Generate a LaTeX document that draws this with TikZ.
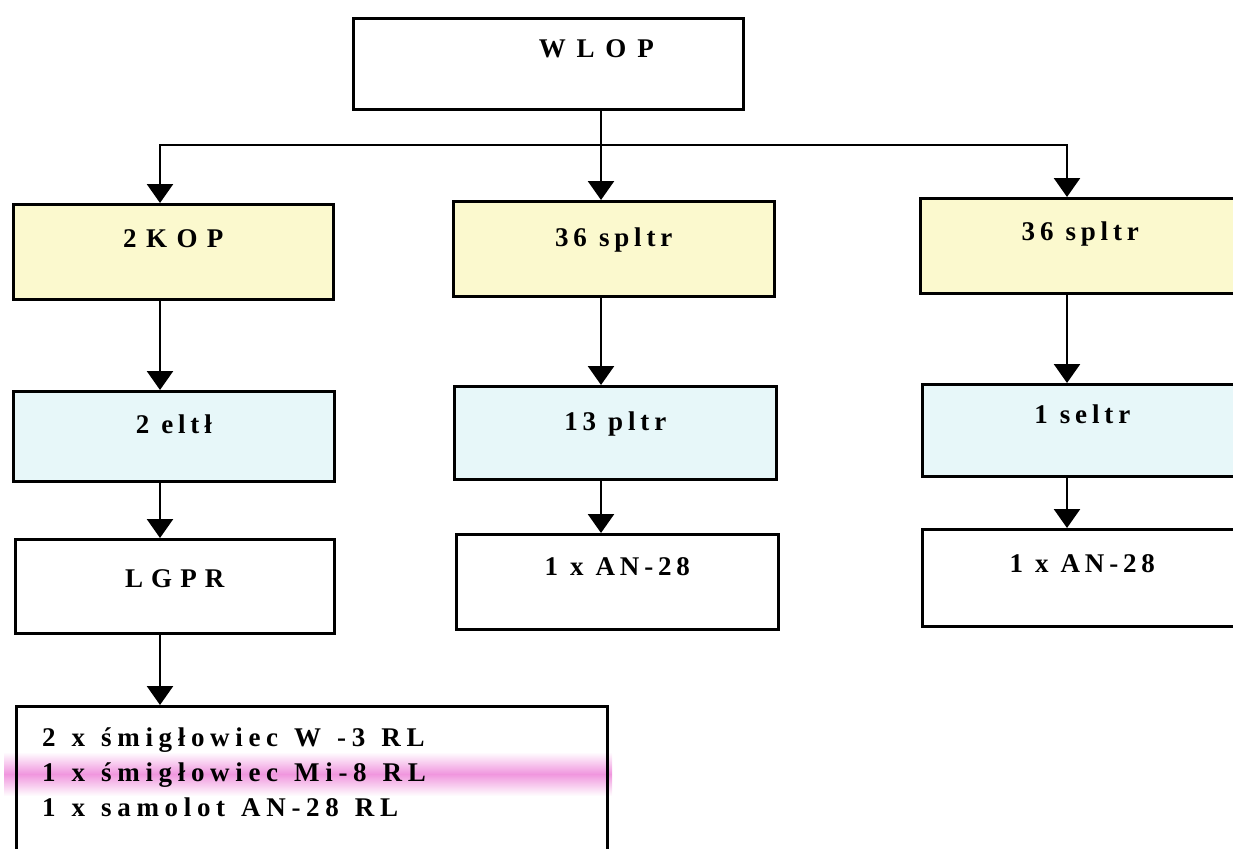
\documentclass[tikz,border=0pt]{standalone}
\usepackage{fontspec}
\setmainfont{Liberation Serif}
\usetikzlibrary{arrows.meta}
\definecolor{kopyellow}{RGB}{251,249,206}
\definecolor{eltcyan}{RGB}{231,247,249}
\definecolor{markpink}{RGB}{240,150,222}
\newcommand{\spaced}[2]{{\addfontfeature{LetterSpace=#1}#2}}
\newcommand{\boxfont}{\bfseries\fontsize{27}{35}\selectfont
  \addfontfeature{LetterSpace=18}}
\newcommand{\linesfont}{\bfseries\fontsize{27}{35}\selectfont
  \addfontfeature{LetterSpace=21}\spaceskip 16pt\relax}

\tikzset{
  box/.style={draw, line width=2.6pt, inner sep=0pt, anchor=north west,
              align=center, font=\boxfont,
              execute at begin node={\spaceskip 12pt\relax}},
  boxsize/.style n args={3}{text width=#1, text height=#2, text depth=#3},
  kop/.style={fill=kopyellow},
  elt/.style={fill=eltcyan},
  lines/.style={anchor=north west, inner sep=0pt, align=left, font=\linesfont},
  arr/.style={line width=2.6pt, -{Triangle[width=26pt,length=19pt]}}
}

\begin{document}
\begin{tikzpicture}[x=1pt,y=-1pt]
\useasboundingbox (0,0) rectangle (1233,848);
\clip (0,0) rectangle (1233,848);

% marker smear on the second line
\shade[top color=white, bottom color=white, middle color=markpink]
  (4,752) rectangle (612,796);

% command
\node[box, boxsize={390pt}{39pt}{52pt}] (wlop) at (352,17)
  {\hspace*{96pt}\spaced{40}{WLOP}};

% first row
\node[box, kop, boxsize={320pt}{43pt}{52pt}] (kop) at (12,203) {\spaced{35}{2KOP}};
\node[box, kop, boxsize={321pt}{45pt}{50pt}] (sp1) at (452,200) {36 spltr};
\node[box, kop, boxsize={320pt}{42pt}{53pt}] (sp2) at (919,197) {36 spltr};

% second row
\node[box, elt, boxsize={321pt}{42pt}{48pt}] (eltl) at (12,390) {2 eltł};
\node[box, elt, boxsize={322pt}{44pt}{49pt}] (pltr) at (453,385) {13 pltr};
\node[box, elt, boxsize={320pt}{39pt}{53pt}] (seltr) at (921,383) {1 seltr};

% third row
\node[box, boxsize={319pt}{48pt}{46pt}] (lgpr) at (14,538) {\spaced{30}{LGPR}};
\node[box, boxsize={322pt}{41pt}{54pt}] (an1) at (455,533) {1 x AN-28};
\node[box, boxsize={320pt}{43pt}{54pt}] (an2) at (921,528) {1 x AN-28};

% aircraft
\node[draw, line width=2.6pt, anchor=north west, minimum width=591pt,
      minimum height=170pt] (heli) at (15,705) {};
\node[lines] (helitxt) at (42,728)
  {2 x śmigłowiec W -3 RL\\1 x śmigłowiec Mi-8 RL\\1 x samolot AN-28 RL};

% connectors
\coordinate (colA) at (160,0);
\coordinate (colB) at (601,0);
\coordinate (colC) at (1067,0);
\coordinate (bus) at (0,145);

\draw[arr] (wlop.south -| colB) -- (sp1.north -| colB);
\draw[arr] (bus -| colB) -| (kop.north -| colA);
\draw[arr] (bus -| colB) -| (sp2.north -| colC);

\draw[arr] (kop.south -| colA) -- (eltl.north -| colA);
\draw[arr] (eltl.south -| colA) -- (lgpr.north -| colA);
\draw[arr] (lgpr.south -| colA) -- (heli.north -| colA);

\draw[arr] (sp1.south -| colB) -- (pltr.north -| colB);
\draw[arr] (pltr.south -| colB) -- (an1.north -| colB);

\draw[arr] (sp2.south -| colC) -- (seltr.north -| colC);
\draw[arr] (seltr.south -| colC) -- (an2.north -| colC);
\end{tikzpicture}
\end{document}
